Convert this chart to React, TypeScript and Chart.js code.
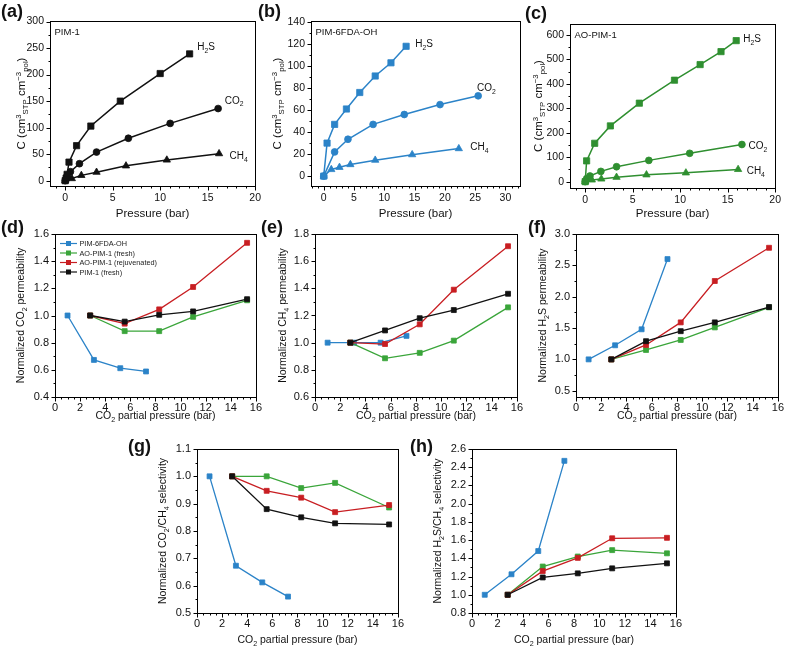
import React, { useEffect, useRef } from 'react';
import { Chart, registerables } from 'chart.js';

Chart.register(...registerables);

const FONT = '"Liberation Sans", Arial, Helvetica, sans-serif';

// ---------- colours ----------
const BLACK = '#111111';
const BLUE = '#2b83c8';
const GREEN = '#3aa53a';
const GREEN_C = '#2f8f30';
const RED = '#c81e22';

// ---------- panel (a) PIM-1 sorption ----------
const A_H2S_X = [0, 0.1, 0.2, 0.4, 1.2, 2.7, 5.8, 10.0, 13.1];
const A_H2S_Y = [0, 5, 12, 35, 66, 103, 150, 202, 239];
const A_CO2_X = [0, 0.2, 0.55, 1.5, 3.3, 6.65, 11.05, 16.1];
const A_CO2_Y = [0, 8, 17, 32, 54, 80, 108, 136];
const A_CH4_X = [0, 0.7, 1.7, 3.3, 6.4, 10.7, 16.2];
const A_CH4_Y = [0, 4, 10, 16, 28, 39, 51];
const A_XTICKS = [0, 5, 10, 15, 20];
const A_YTICKS = [0, 50, 100, 150, 200, 250, 300];

// ---------- panel (b) PIM-6FDA-OH sorption ----------
const B_H2S_X = [0, 0.55, 1.8, 3.75, 5.95, 8.5, 11.1, 13.6];
const B_H2S_Y = [0, 30, 47, 61, 76, 91, 103, 118];
const B_CO2_X = [0, 1.8, 4.0, 8.15, 13.3, 19.2, 25.5];
const B_CO2_Y = [0, 22, 33.5, 47, 56, 65, 73];
const B_CH4_X = [0, 1.25, 2.6, 4.4, 8.5, 14.6, 22.3];
const B_CH4_Y = [0, 6, 8, 10.5, 14.5, 19.5, 25];
const B_XTICKS = [0, 5, 10, 15, 20, 25, 30];
const B_YTICKS = [0, 20, 40, 60, 80, 100, 120, 140];

// ---------- panel (c) AO-PIM-1 sorption ----------
const C_H2S_X = [0, 0.15, 1.0, 2.65, 5.7, 9.4, 12.1, 14.3, 15.9];
const C_H2S_Y = [0, 85, 157, 228, 321, 415, 479, 532, 577];
const C_CO2_X = [0, 0.15, 0.5, 1.65, 3.3, 6.7, 11.0, 16.5];
const C_CO2_Y = [0, 12, 23, 42, 61, 87, 116, 152];
const C_CH4_X = [0, 0.7, 1.7, 3.3, 6.45, 10.6, 16.1];
const C_CH4_Y = [0, 7, 11, 18, 28, 36, 50];
const C_XTICKS = [0, 5, 10, 15, 20];
const C_YTICKS = [0, 100, 200, 300, 400, 500, 600];

// ---------- panels (d)-(h): CO2 partial pressure (bar) ----------
const OH_X = [1.0, 3.1, 5.2, 7.25];
const FILM_X = [2.8, 5.55, 8.3, 11.0, 15.3];
const P_XTICKS = [0, 2, 4, 6, 8, 10, 12, 14, 16];

// (d) normalized CO2 permeability
const D_OH = [1.0, 0.673, 0.612, 0.588];
const D_AO_FRESH = [1.0, 0.885, 0.885, 0.99, 1.112];
const D_AO_REJ = [1.0, 0.94, 1.045, 1.21, 1.535];
const D_PIM1 = [1.0, 0.955, 1.005, 1.03, 1.12];
const D_YTICKS = [0.4, 0.6, 0.8, 1.0, 1.2, 1.4, 1.6];

// (e) normalized CH4 permeability
const E_OH = [1.0, 1.0, 1.0, 1.05];
const E_AO_FRESH = [1.0, 0.885, 0.925, 1.015, 1.26];
const E_AO_REJ = [1.0, 0.99, 1.135, 1.39, 1.71];
const E_PIM1 = [1.0, 1.09, 1.18, 1.24, 1.36];
const E_YTICKS = [0.6, 0.8, 1.0, 1.2, 1.4, 1.6, 1.8];

// (f) normalized H2S permeability
const F_OH = [1.0, 1.225, 1.48, 2.6];
const F_AO_FRESH = [1.0, 1.15, 1.31, 1.51, 1.83];
const F_AO_REJ = [1.0, 1.23, 1.59, 2.25, 2.78];
const F_PIM1 = [1.0, 1.29, 1.45, 1.59, 1.835];
const F_YTICKS = [0.5, 1.0, 1.5, 2.0, 2.5, 3.0];

// (g) normalized CO2/CH4 selectivity
const G_OH = [1.0, 0.673, 0.612, 0.56];
const G_AO_FRESH = [1.0, 1.0, 0.957, 0.976, 0.886];
const G_AO_REJ = [1.0, 0.947, 0.922, 0.869, 0.895];
const G_PIM1 = [1.0, 0.88, 0.85, 0.828, 0.824];
const G_YTICKS = [0.5, 0.6, 0.7, 0.8, 0.9, 1.0, 1.1];

// (h) normalized H2S/CH4 selectivity
const H_OH = [1.0, 1.225, 1.48, 2.47];
const H_AO_FRESH = [1.0, 1.31, 1.42, 1.49, 1.455];
const H_AO_REJ = [1.0, 1.26, 1.405, 1.62, 1.625];
const H_PIM1 = [1.0, 1.19, 1.235, 1.29, 1.345];
const H_YTICKS = [0.8, 1.0, 1.2, 1.4, 1.6, 1.8, 2.0, 2.2, 2.4, 2.6];

const LEGEND_LABELS = ['PIM-6FDA-OH', 'AO-PIM-1 (fresh)', 'AO-PIM-1 (rejuvenated)', 'PIM-1 (fresh)'];

// ---------- types ----------
type Kind = '' | 'sub' | 'sup';
type Part = [string, Kind];

interface Series {
  label: string;
  xs: number[];
  ys: number[];
  color: string;
  style: 'rect' | 'circle' | 'triangle';
  radius: number;
  width: number;
  order: number;
}

interface AxisDef {
  min: number;
  max: number;
  ticks: number[];
  minor: number;
  dec: number;
}

interface Note {
  x: number;
  y: number;
  parts: Part[];
}

interface PanelDef {
  letter: string;
  letterPos: [number, number];
  box: [number, number, number, number];
  x: AxisDef;
  y: AxisDef;
  xTitle: Part[];
  yTitle: Part[];
  titleSize: number;
  tickSize: number;
  xTickPad: number;
  xTitleOff: number;
  yTitleOff: number;
  series: Series[];
  notes?: Note[];
  corner?: string;
  legend?: boolean;
}

// ---------- text helpers ----------
const H2S: Part[] = [['H', ''], ['2', 'sub'], ['S', '']];
const CO2: Part[] = [['CO', ''], ['2', 'sub']];
const CH4: Part[] = [['CH', ''], ['4', 'sub']];
const C_TITLE: Part[] = [['C (cm', ''], ['3', 'sup'], ['STP', 'sub'], [' cm', ''], ['\u22123', 'sup'], ['pol', 'sub'], [')', '']];
const P_TITLE: Part[] = [['Pressure (bar)', '']];
const CO2P_TITLE: Part[] = [['CO', ''], ['2', 'sub'], [' partial pressure (bar)', '']];

function drawRich(
  ctx: CanvasRenderingContext2D,
  parts: Part[],
  x: number,
  y: number,
  size: number,
  align: 'left' | 'center',
  rotate: boolean,
  color: string
) {
  const small = size * 0.68;
  ctx.save();
  ctx.translate(x, y);
  if (rotate) ctx.rotate(-Math.PI / 2);
  ctx.fillStyle = color;
  ctx.textBaseline = 'alphabetic';
  ctx.textAlign = 'left';
  const widths = parts.map(([t, k]) => {
    ctx.font = `${k ? small : size}px ${FONT}`;
    return ctx.measureText(t).width;
  });
  const total = widths.reduce((a, b) => a + b, 0);
  let cx = align === 'center' ? -total / 2 : 0;
  const base = size * 0.36;
  parts.forEach(([t, k], i) => {
    ctx.font = `${k ? small : size}px ${FONT}`;
    const dy = k === 'sub' ? size * 0.28 : k === 'sup' ? -size * 0.38 : 0;
    ctx.fillText(t, cx, base + dy);
    cx += widths[i];
  });
  ctx.restore();
}

function makeFramePlugin(def: PanelDef) {
  return {
    id: 'frame',
    beforeDatasetsDraw(chart: any) {
      const ctx: CanvasRenderingContext2D = chart.ctx;
      const a = chart.chartArea;
      const xs = chart.scales.x;
      const ys = chart.scales.y;
      ctx.save();
      ctx.strokeStyle = '#000';
      ctx.lineWidth = 1;
      ctx.strokeRect(Math.round(a.left) + 0.5, Math.round(a.top) + 0.5, Math.round(a.right - a.left), Math.round(a.bottom - a.top));
      ctx.beginPath();
      const isMajor = (v: number, list: number[]) => list.some((t) => Math.abs(t - v) < 1e-6);
      const x0 = Math.ceil((def.x.min - 1e-9) / def.x.minor);
      const x1 = Math.floor((def.x.max + 1e-9) / def.x.minor);
      for (let i = x0; i <= x1; i++) {
        const v = i * def.x.minor;
        const px = Math.round(xs.getPixelForValue(v)) + 0.5;
        const len = isMajor(v, def.x.ticks) ? 4 : 2;
        ctx.moveTo(px, Math.round(a.bottom) + 0.5);
        ctx.lineTo(px, Math.round(a.bottom) + 0.5 + len);
      }
      const y0 = Math.ceil((def.y.min - 1e-9) / def.y.minor);
      const y1 = Math.floor((def.y.max + 1e-9) / def.y.minor);
      for (let i = y0; i <= y1; i++) {
        const v = i * def.y.minor;
        const py = Math.round(ys.getPixelForValue(v)) + 0.5;
        const len = isMajor(v, def.y.ticks) ? 4 : 2;
        ctx.moveTo(Math.round(a.left) + 0.5, py);
        ctx.lineTo(Math.round(a.left) + 0.5 - len, py);
      }
      ctx.stroke();
      ctx.restore();
    },
    afterDraw(chart: any) {
      const ctx: CanvasRenderingContext2D = chart.ctx;
      const a = chart.chartArea;
      const xs = chart.scales.x;
      const ys = chart.scales.y;
      drawRich(ctx, def.xTitle, (a.left + a.right) / 2, a.bottom + def.xTitleOff, def.titleSize, 'center', false, '#111');
      drawRich(ctx, def.yTitle, a.left - def.yTitleOff, (a.top + a.bottom) / 2, def.titleSize, 'center', true, '#111');
      if (def.corner) {
        drawRich(ctx, [[def.corner, '']], a.left + 4.5, a.top + 11, 9.5, 'left', false, '#111');
      }
      (def.notes || []).forEach((n) => {
        drawRich(ctx, n.parts, xs.getPixelForValue(n.x), ys.getPixelForValue(n.y), 10, 'left', false, '#111');
      });
      if (def.legend) {
        const ds = chart.data.datasets;
        const lx = a.left + 5;
        let ly = a.top + 9.5;
        ds.forEach((d: any) => {
          ctx.save();
          ctx.strokeStyle = d.borderColor;
          ctx.lineWidth = 1.2;
          ctx.beginPath();
          ctx.moveTo(lx, ly);
          ctx.lineTo(lx + 17, ly);
          ctx.stroke();
          ctx.fillStyle = d.borderColor;
          ctx.fillRect(lx + 8.5 - 2.5, ly - 2.5, 5, 5);
          ctx.restore();
          drawRich(ctx, [[d.label, '']], lx + 19.5, ly, 7.3, 'left', false, '#222');
          ly += 9.5;
        });
      }
    },
  };
}

// ---------- panel definitions ----------
function sorptionSeries(color: string, h: [number[], number[]], c: [number[], number[]], m: [number[], number[]]): Series[] {
  return [
    { label: 'H2S', xs: h[0], ys: h[1], color, style: 'rect', radius: 4.4, width: 1.5, order: 0 },
    { label: 'CO2', xs: c[0], ys: c[1], color, style: 'circle', radius: 3.4, width: 1.5, order: 1 },
    { label: 'CH4', xs: m[0], ys: m[1], color, style: 'triangle', radius: 4.2, width: 1.5, order: 2 },
  ];
}

function permSeries(oh: number[], aoFresh: number[], aoRej: number[], pim1: number[]): Series[] {
  const base = { style: 'rect' as const, radius: 3.5, width: 1.3 };
  return [
    { ...base, label: LEGEND_LABELS[0], xs: OH_X, ys: oh, color: BLUE, order: 3 },
    { ...base, label: LEGEND_LABELS[1], xs: FILM_X, ys: aoFresh, color: GREEN, order: 2 },
    { ...base, label: LEGEND_LABELS[2], xs: FILM_X, ys: aoRej, color: RED, order: 1 },
    { ...base, label: LEGEND_LABELS[3], xs: FILM_X, ys: pim1, color: BLACK, order: 0 },
  ];
}

const PX_AXIS: AxisDef = { min: 0, max: 16, ticks: P_XTICKS, minor: 0.5, dec: 0 };

const PANELS: PanelDef[] = [
  {
    letter: '(a)', letterPos: [1, 2], box: [50, 21, 259, 185.5],
    x: { min: -1.6, max: 20, ticks: A_XTICKS, minor: 1, dec: 0 },
    y: { min: -10, max: 301, ticks: A_YTICKS, minor: 25, dec: 0 },
    xTitle: P_TITLE, yTitle: C_TITLE, titleSize: 11.5, tickSize: 10.5, xTickPad: 6, xTitleOff: 27, yTitleOff: 29,
    series: sorptionSeries(BLACK, [A_H2S_X, A_H2S_Y], [A_CO2_X, A_CO2_Y], [A_CH4_X, A_CH4_Y]),
    corner: 'PIM-1',
    notes: [
      { x: 13.9, y: 253, parts: H2S },
      { x: 16.8, y: 152, parts: CO2 },
      { x: 17.3, y: 48, parts: CH4 },
    ],
  },
  {
    letter: '(b)', letterPos: [258, 2], box: [311, 21, 520, 186],
    x: { min: -2.1, max: 32.4, ticks: B_XTICKS, minor: 1, dec: 0 },
    y: { min: -9, max: 141, ticks: B_YTICKS, minor: 10, dec: 0 },
    xTitle: P_TITLE, yTitle: C_TITLE, titleSize: 11.5, tickSize: 10.5, xTickPad: 6, xTitleOff: 27, yTitleOff: 34,
    series: sorptionSeries(BLUE, [B_H2S_X, B_H2S_Y], [B_CO2_X, B_CO2_Y], [B_CH4_X, B_CH4_Y]),
    corner: 'PIM-6FDA-OH',
    notes: [
      { x: 15.1, y: 120.6, parts: H2S },
      { x: 25.3, y: 80.6, parts: CO2 },
      { x: 24.2, y: 26.6, parts: CH4 },
    ],
  },
  {
    letter: '(c)', letterPos: [525, 4], box: [570, 24, 779, 188],
    x: { min: -1.6, max: 20, ticks: C_XTICKS, minor: 1, dec: 0 },
    y: { min: -26, max: 645, ticks: C_YTICKS, minor: 50, dec: 0 },
    xTitle: P_TITLE, yTitle: C_TITLE, titleSize: 11.5, tickSize: 10.5, xTickPad: 6, xTitleOff: 25, yTitleOff: 32,
    series: sorptionSeries(GREEN_C, [C_H2S_X, C_H2S_Y], [C_CO2_X, C_CO2_Y], [C_CH4_X, C_CH4_Y]),
    corner: 'AO-PIM-1',
    notes: [
      { x: 16.65, y: 587, parts: H2S },
      { x: 17.2, y: 147, parts: CO2 },
      { x: 17.0, y: 45, parts: CH4 },
    ],
  },
  {
    letter: '(d)', letterPos: [1, 218], box: [55, 234, 258, 397],
    x: PX_AXIS, y: { min: 0.4, max: 1.6, ticks: D_YTICKS, minor: 0.1, dec: 1 },
    xTitle: CO2P_TITLE, yTitle: [['Normalized CO', ''], ['2', 'sub'], [' permeability', '']],
    titleSize: 10.5, tickSize: 11, xTickPad: 4, xTitleOff: 18, yTitleOff: 35,
    series: permSeries(D_OH, D_AO_FRESH, D_AO_REJ, D_PIM1), legend: true,
  },
  {
    letter: '(e)', letterPos: [261, 218], box: [315, 234, 519, 397],
    x: PX_AXIS, y: { min: 0.6, max: 1.8, ticks: E_YTICKS, minor: 0.1, dec: 1 },
    xTitle: CO2P_TITLE, yTitle: [['Normalized CH', ''], ['4', 'sub'], [' permeability', '']],
    titleSize: 10.5, tickSize: 11, xTickPad: 4, xTitleOff: 18, yTitleOff: 33,
    series: permSeries(E_OH, E_AO_FRESH, E_AO_REJ, E_PIM1),
  },
  {
    letter: '(f)', letterPos: [528, 218], box: [576, 234, 780, 397],
    x: PX_AXIS, y: { min: 0.4, max: 3.0, ticks: F_YTICKS, minor: 0.25, dec: 1 },
    xTitle: CO2P_TITLE, yTitle: [['Normalized H', ''], ['2', 'sub'], ['S permeability', '']],
    titleSize: 10.5, tickSize: 11, xTickPad: 4, xTitleOff: 18, yTitleOff: 34,
    series: permSeries(F_OH, F_AO_FRESH, F_AO_REJ, F_PIM1),
  },
  {
    letter: '(g)', letterPos: [128, 437], box: [197, 449, 400, 613],
    x: PX_AXIS, y: { min: 0.5, max: 1.1, ticks: G_YTICKS, minor: 0.05, dec: 1 },
    xTitle: CO2P_TITLE, yTitle: [['Normalized CO', ''], ['2', 'sub'], ['/CH', ''], ['4', 'sub'], [' selectivity', '']],
    titleSize: 10.5, tickSize: 11, xTickPad: 4, xTitleOff: 26, yTitleOff: 35,
    series: permSeries(G_OH, G_AO_FRESH, G_AO_REJ, G_PIM1),
  },
  {
    letter: '(h)', letterPos: [410, 437], box: [472, 449, 678, 613],
    x: PX_AXIS, y: { min: 0.8, max: 2.6, ticks: H_YTICKS, minor: 0.1, dec: 1 },
    xTitle: CO2P_TITLE, yTitle: [['Normalized H', ''], ['2', 'sub'], ['S/CH', ''], ['4', 'sub'], [' selectivity', '']],
    titleSize: 10.5, tickSize: 11, xTickPad: 4, xTitleOff: 26, yTitleOff: 35,
    series: permSeries(H_OH, H_AO_FRESH, H_AO_REJ, H_PIM1),
  },
];

const PAD_L = 52;
const PAD_T = 14;
const PAD_R = 8;
const PAD_B = 40;

function PanelChart({ def }: { def: PanelDef }) {
  const ref = useRef<HTMLCanvasElement>(null);
  const [l, t, r, b] = def.box;
  const cw = Math.round(r - l + PAD_L + PAD_R);
  const ch = Math.round(b - t + PAD_T + PAD_B);
  useEffect(() => {
    if (!ref.current) return;
    const tickFont = { family: FONT, size: def.tickSize };
    const chart = new Chart(ref.current, {
      type: 'scatter',
      data: {
        datasets: def.series.map((s) => ({
          label: s.label,
          data: s.xs.map((x, i) => ({ x, y: s.ys[i] })),
          showLine: true,
          borderColor: s.color,
          backgroundColor: s.color,
          borderWidth: s.width,
          pointStyle: s.style,
          pointRadius: s.radius,
          pointBorderWidth: 0.8,
          pointBorderColor: s.color,
          pointBackgroundColor: s.color,
          order: s.order,
          tension: 0,
        })),
      },
      options: {
        responsive: false,
        animation: false,
        devicePixelRatio: 1,
        events: [],
        layout: { padding: { left: 0, top: PAD_T, right: PAD_R, bottom: 0 } },
        plugins: { legend: { display: false }, tooltip: { enabled: false } },
        scales: {
          x: {
            type: 'linear',
            min: def.x.min,
            max: def.x.max,
            afterFit: (s: any) => { s.height = PAD_B; },
            afterBuildTicks: (s: any) => { s.ticks = def.x.ticks.map((v) => ({ value: v })); },
            grid: { display: false, drawTicks: false },
            border: { display: false },
            ticks: {
              padding: def.xTickPad,
              autoSkip: false,
              maxRotation: 0,
              color: '#111',
              font: tickFont,
              callback: (v: any) => Number(v).toFixed(def.x.dec),
            },
          },
          y: {
            type: 'linear',
            min: def.y.min,
            max: def.y.max,
            afterFit: (s: any) => { s.width = PAD_L + (l - Math.round(l)); },
            afterBuildTicks: (s: any) => { s.ticks = def.y.ticks.map((v) => ({ value: v })); },
            grid: { display: false, drawTicks: false },
            border: { display: false },
            ticks: {
              padding: 6,
              autoSkip: false,
              color: '#111',
              font: tickFont,
              callback: (v: any) => Number(v).toFixed(def.y.dec),
            },
          },
        },
      } as any,
      plugins: [makeFramePlugin(def)],
    });
    return () => chart.destroy();
  }, [def]);
  return (
    <canvas
      ref={ref}
      width={cw}
      height={ch}
      style={{ position: 'absolute', left: Math.round(l) - PAD_L, top: Math.round(t) - PAD_T, width: cw, height: ch }}
    />
  );
}

export default function App() {
  return (
    <div style={{ position: 'absolute', left: 0, top: 0, width: 788, height: 650, background: '#fff', overflow: 'hidden' }}>
      {PANELS.map((p) => (
        <PanelChart key={p.letter} def={p} />
      ))}
      {PANELS.map((p) => (
        <div
          key={'L' + p.letter}
          style={{
            position: 'absolute',
            left: p.letterPos[0],
            top: p.letterPos[1],
            font: `bold 18px ${FONT}`,
            lineHeight: '18px',
            color: '#111',
          }}
        >
          {p.letter}
        </div>
      ))}
    </div>
  );
}
